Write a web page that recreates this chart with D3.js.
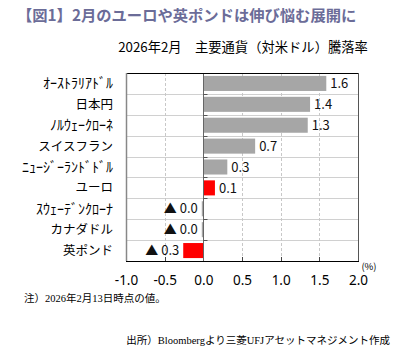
<!DOCTYPE html>
<html><head><meta charset="utf-8">
<script src="https://cdn.jsdelivr.net/npm/d3@7"></script>
<style>
html,body{margin:0;padding:0;background:#fff;}
svg{display:block;}
</style></head>
<body><svg id="c" width="410" height="360"></svg>
<script>
const categories = ["ｵｰｽﾄﾗﾘｱﾄﾞﾙ","日本円","ﾉﾙｳｪｰｸﾛｰﾈ","スイスフラン","ﾆｭｰｼﾞｰﾗﾝﾄﾞﾄﾞﾙ","ユーロ","ｽｳｪｰﾃﾞﾝｸﾛｰﾅ","カナダドル","英ポンド"];
const values = [1.59, 1.38, 1.35, 0.67, 0.31, 0.15, -0.02, -0.02, -0.26];
const valueLabels = ["1.6","1.4","1.3","0.7","0.3","0.1","▲ 0.0","▲ 0.0","▲ 0.3"];
const highlighted = ["ユーロ","英ポンド"];
const xTicks = [-1.0,-0.5,0.0,0.5,1.0,1.5,2.0];
const title = "【図1】2月のユーロや英ポンドは伸び悩む展開に";
const subtitle = "2026年2月　主要通貨（対米ドル）騰落率";
const note = "注）2026年2月13日時点の値。";
const source = "出所）Bloombergより三菱UFJアセットマネジメント作成";

const svg = d3.select("#c");
const jp = "'Noto Sans CJK JP', 'Noto Sans', sans-serif";
const serif = "'Liberation Serif', 'Noto Sans CJK JP', serif";
const L = 126, R = 358, T = 73, B = 261;
const x = d3.scaleLinear().domain([-1, 2]).range([L, R]);
const y = d3.scaleBand().domain(categories).range([T, B]).paddingInner(0.28).paddingOuter(0.14);
const step = y.step();

svg.append("text").attr("x", 17).attr("y", 21).attr("fill", "#6b6c98")
  .attr("font-family", jp).attr("font-weight", "bold").attr("font-size", 15.3).text(title);
svg.append("text").attr("x", 243).attr("y", 52).attr("text-anchor", "middle").attr("fill", "#000")
  .attr("font-family", jp).attr("font-size", 13.3).text(subtitle);

// horizontal grid lines at row boundaries
const g = svg.append("g");
categories.slice(1).forEach((c, i) => {
  const yy = Math.round(T + step * (i + 1)) + 0.5;
  g.append("line").attr("x1", L).attr("x2", R).attr("y1", yy).attr("y2", yy)
    .attr("stroke", "#d0d0d0").attr("stroke-width", 1);
});
// vertical dashed grid
xTicks.filter(t => t !== 0 && t !== -1 && t !== 2).forEach(t => {
  const xx = Math.round(x(t)) + 0.5;
  g.append("line").attr("x1", xx).attr("x2", xx).attr("y1", T).attr("y2", B)
    .attr("stroke", "#c8c8c8").attr("stroke-dasharray", "3,2");
  g.append("line").attr("x1", xx).attr("x2", xx).attr("y1", B - 4).attr("y2", B)
    .attr("stroke", "#444");
});

// bars
svg.append("g").selectAll("rect").data(categories).join("rect")
  .attr("x", (d, i) => x(Math.min(0, values[i])))
  .attr("width", (d, i) => Math.max(1.5, Math.abs(x(values[i]) - x(0))))
  .attr("y", d => y(d))
  .attr("height", y.bandwidth())
  .attr("fill", d => highlighted.includes(d) ? "#ff0000" : "#a6a6a6");

// zero axis
const zx = Math.round(x(0)) + 0.5;
svg.append("line").attr("x1", zx).attr("x2", zx).attr("y1", T).attr("y2", B).attr("stroke", "#666");
categories.slice(1).forEach((c, i) => {
  const yy = Math.round(T + step * (i + 1)) + 0.5;
  svg.append("line").attr("x1", zx).attr("x2", zx + 4).attr("y1", yy).attr("y2", yy).attr("stroke", "#555");
});

// frame
svg.append("line").attr("x1", L).attr("x2", R).attr("y1", T + 0.5).attr("y2", T + 0.5).attr("stroke", "#000");
svg.append("line").attr("x1", L).attr("x2", R + 1).attr("y1", B + 0.5).attr("y2", B + 0.5).attr("stroke", "#000");
svg.append("line").attr("x1", L + 0.5).attr("x2", L + 0.5).attr("y1", T).attr("y2", B).attr("stroke", "#888").attr("stroke-width", 1.5);
svg.append("line").attr("x1", R + 0.5).attr("x2", R + 0.5).attr("y1", T).attr("y2", B).attr("stroke", "#555");

// value labels
svg.append("g").selectAll("text").data(categories).join("text")
  .attr("x", (d, i) => values[i] > 0.05 ? x(values[i]) + 4 : x(Math.min(0, values[i])) - 4)
  .attr("text-anchor", (d, i) => values[i] > 0.05 ? "start" : "end")
  .attr("y", d => y(d) + y.bandwidth() / 2)
  .attr("dy", "0.36em")
  .attr("font-family", jp).attr("font-size", 13).attr("fill", "#111")
  .text((d, i) => valueLabels[i]);

// category labels (half-width kana rendered a bit larger to match width)
const isHalf = s => /[\uFF61-\uFF9F]/.test(s);
svg.append("g").selectAll("text").data(categories).join("text")
  .attr("x", 113).attr("text-anchor", "end")
  .attr("y", d => y(d) + y.bandwidth() / 2)
  .attr("dy", "0.36em")
  .attr("font-family", jp).attr("font-size", d => isHalf(d) ? 14 : 12.5).attr("fill", "#000")
  .text(d => d);

// x axis labels
const xa = svg.append("g").attr("transform", `translate(0,${B})`)
  .call(d3.axisBottom(x).tickValues(xTicks).tickFormat(d3.format(".1f")).tickSize(0).tickPadding(14));
xa.select(".domain").remove();
xa.selectAll("text").attr("font-family", "'Noto Sans', sans-serif").attr("font-size", 13.5).attr("fill", "#000")
  .text(d => d < 0 ? "-" + Math.abs(d).toFixed(1) : d.toFixed(1));

svg.append("text").attr("x", 369).attr("y", 270).attr("text-anchor", "middle")
  .attr("font-family", jp).attr("font-size", 9.5).attr("fill", "#000").text("(%)");

svg.append("text").attr("x", 24).attr("y", 302).attr("font-family", serif).attr("font-size", 10.5).attr("fill", "#000").text(note);
svg.append("text").attr("x", 390).attr("y", 344).attr("text-anchor", "end").attr("font-family", serif).attr("font-size", 10.5).attr("fill", "#000").text(source);
</script></body></html>
